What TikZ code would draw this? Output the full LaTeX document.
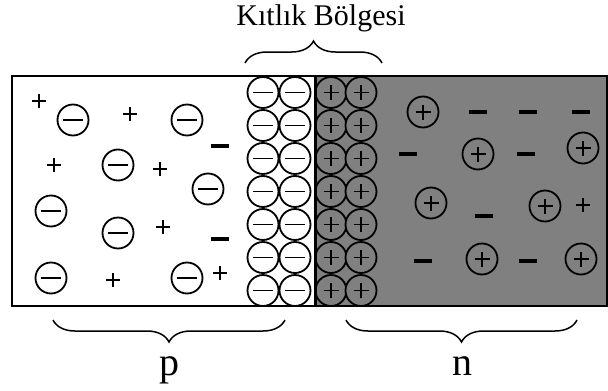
\documentclass[tikz,border=0pt]{standalone}
\usepackage{fontspec}
\setmainfont{Liberation Serif}
\usetikzlibrary{decorations.pathreplacing}

\definecolor{ntype}{HTML}{808080}

\begin{document}
\begin{tikzpicture}[
	x=1pt, y=-1pt,
	ion/.style={
		circle,
		draw,
		line width=1.8pt,
		minimum size=31pt,
		inner sep=0pt,
	},
	acceptor/.style={ion, fill=white},
	donor/.style={
		ion,
		fill=ntype,
		path picture={
			\draw[line width=1.6pt]
				(path picture bounding box.center) +(-7.5pt,0) -- +(7.5pt,0)
				(path picture bounding box.center) +(0,-7.5pt) -- +(0,7.5pt);
		},
	},
	hole/.style={
		minimum size=16pt,
		inner sep=0pt,
		path picture={
			\draw[line width=1.5pt]
				(path picture bounding box.center) +(-7pt,0) -- +(7pt,0)
				(path picture bounding box.center) +(0,-7pt) -- +(0,7pt);
		},
	},
	electron/.style={
		fill=black,
		minimum width=18pt,
		minimum height=4.5pt,
		inner sep=0pt,
	},
	brc/.style={decorate, decoration={brace, amplitude=22pt}, line width=1.5pt},
	lbl/.style={font=\fontsize{40}{40}\selectfont, anchor=base},
]
\useasboundingbox (0,0) rectangle (608,391);

% --- Kristal: p (beyaz) ve n (gri) bolgeleri ---
\draw[line width=1.8pt] (12,76) rectangle (315,306);
\draw[line width=1.8pt, fill=ntype] (315,76) rectangle (607,306);

% --- Kitlik bolgesi: iyonlasmis atomlar ---
\foreach \r in {0,...,6} {
	\node[acceptor] (da\r a) at (263,92.5+33*\r) {\rule{20pt}{1.9pt}};
	\node[acceptor] (da\r b) at (295,92.5+33*\r) {\rule{20pt}{1.9pt}};
	\node[donor] (dd\r a) at (331,92.5+33*\r) {};
	\node[donor] (dd\r b) at (361,92.5+33*\r) {};
}
\draw[line width=3pt] (315,76) -- (315,306);

% --- p bolgesi ---
\foreach \x/\y [count=\i] in {73/120, 187/120, 118/165, 208/189, 51/211, 118/233, 51/278, 187/278}
	\node[acceptor] (pa\i) at (\x,\y) {\rule{20pt}{1.9pt}};
\foreach \x/\y [count=\i] in {39/101, 130/114, 54/165, 160/169, 163/227, 113/280, 220/273}
	\node[hole] (ph\i) at (\x,\y) {};
\foreach \x/\y [count=\i] in {220/146, 220/239}
	\node[electron] (pe\i) at (\x,\y) {};

% --- n bolgesi ---
\foreach \x/\y [count=\i] in {423/112, 583/148, 478/154, 431/203, 545/206, 482/259, 581/259}
	\node[donor] (nd\i) at (\x,\y) {};
\foreach \x/\y [count=\i] in {478/112, 528/112, 581/112, 408/154, 526/154, 484/216, 423/261, 528/261}
	\node[electron] (ne\i) at (\x,\y) {};
\node[hole] (nh1) at (583,205) {};

% --- Parantezler ve etiketler ---
\coordinate (kL) at (245,63);
\coordinate (kR) at (382,63);
\draw[brc] (kL) -- (kR);
\node[anchor=base, font=\fontsize{30}{30}\selectfont] (kitlik) at (321,25) {Kıtlık Bölgesi};

\coordinate (pL) at (53,320);
\coordinate (pR) at (285,320);
\draw[brc] (pR) -- (pL);
\node[lbl] (plbl) at (169,375) {p};

\coordinate (nL) at (346,320);
\coordinate (nR) at (577,320);
\draw[brc] (nR) -- (nL);
\node[lbl] (nlbl) at (462,375) {n};

\end{tikzpicture}
\end{document}
